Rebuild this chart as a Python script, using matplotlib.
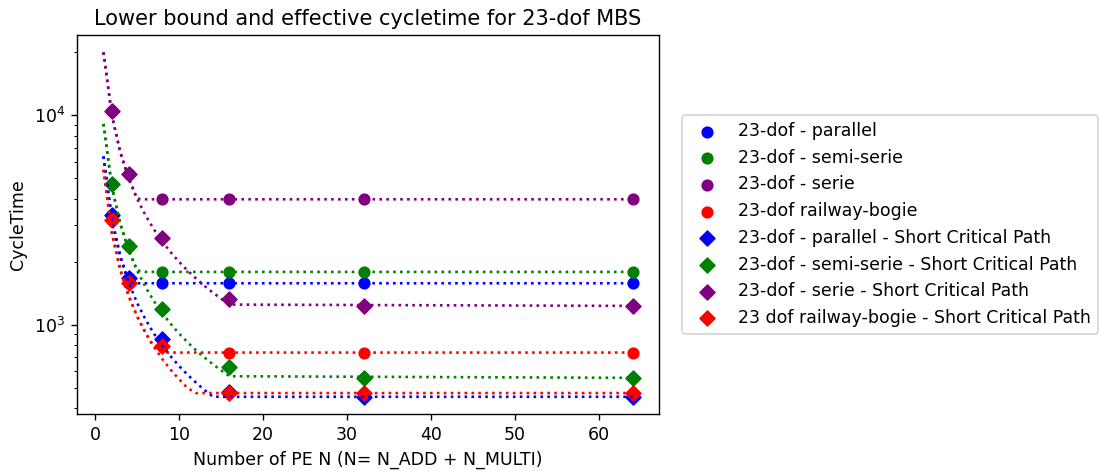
import matplotlib
matplotlib.use("Agg")
import matplotlib.pyplot as plt

# ---- data ----
N_points = [2, 4, 8, 16, 32, 64]
N_line = [1, 2, 3, 4, 5, 6, 7, 8, 9, 10, 11, 12, 13, 14, 15, 16, 64]

# effective cycle time (circles)
parallel_eff = [3335, 1683, 1580, 1580, 1580, 1580]
semiserie_eff = [4720, 2372, 1790, 1790, 1790, 1790]
serie_eff = [10450, 5235, 3975, 3975, 3975, 3975]
bogie_eff = [3155, 1585, 794, 738, 738, 738]

# short critical path (diamonds)
parallel_scp = [3335, 1683, 861, 479, 454, 454]
semiserie_scp = [4720, 2372, 1197, 628, 559, 559]
serie_scp = [10450, 5235, 2612, 1330, 1232, 1232]
bogie_scp = [3155, 1585, 794, 474, 474, 474]

# lower bounds (dotted)
parallel_bound = [6370, 3185, 2123, 1593, 1580, 1580, 1580, 1580, 1580, 1580, 1580, 1580, 1580, 1580, 1580, 1580, 1580]
parallel_bound_scp = [6370, 3185, 2123, 1593, 1274, 1062, 910, 796, 708, 637, 579, 531, 490, 455, 454, 454, 454]
semiserie_bound = [9100, 4550, 3033, 2275, 1820, 1790, 1790, 1790, 1790, 1790, 1790, 1790, 1790, 1790, 1790, 1790, 1790]
semiserie_bound_scp = [9100, 4550, 3033, 2275, 1820, 1517, 1300, 1138, 1011, 910, 827, 758, 700, 650, 607, 569, 559]
serie_bound = [20000, 10000, 6667, 5000, 4000, 3975, 3975, 3975, 3975, 3975, 3975, 3975, 3975, 3975, 3975, 3975, 3975]
serie_bound_scp = [20000, 10000, 6667, 5000, 4000, 3333, 2857, 2500, 2222, 2000, 1818, 1667, 1538, 1429, 1333, 1250, 1232]
bogie_bound = [5500, 2750, 1833, 1375, 1100, 917, 786, 738, 738, 738, 738, 738, 738, 738, 738, 738, 738]
bogie_bound_scp = [5500, 2750, 1833, 1375, 1100, 917, 786, 688, 611, 550, 500, 473, 473, 473, 473, 473, 473]

labels_eff = ["23-dof - parallel", "23-dof - semi-serie", "23-dof - serie", "23-dof railway-bogie"]
labels_scp = ["23-dof - parallel - Short Critical Path", "23-dof - semi-serie - Short Critical Path",
              "23-dof - serie - Short Critical Path", "23 dof railway-bogie - Short Critical Path"]
colors = ["blue", "green", "purple", "red"]

eff = [parallel_eff, semiserie_eff, serie_eff, bogie_eff]
scp = [parallel_scp, semiserie_scp, serie_scp, bogie_scp]
bounds = [parallel_bound, semiserie_bound, serie_bound, bogie_bound]
bounds_scp = [parallel_bound_scp, semiserie_bound_scp, serie_bound_scp, bogie_bound_scp]

fig = plt.figure(figsize=(1099 / 125, 471 / 125), dpi=125)
ax = fig.add_axes([0.0701, 0.121, 0.5295, 0.8047])

for y, c, lab in zip(eff, colors, labels_eff):
    ax.scatter(N_points, y, color=c, marker="o", s=36, label=lab)
for y, c, lab in zip(scp, colors, labels_scp):
    ax.scatter(N_points, y, color=c, marker="D", s=36, label=lab)
for yb, ybs, c in zip(bounds, bounds_scp, colors):
    ax.plot(N_line, yb, linestyle=":", color=c, linewidth=1.5)
    ax.plot(N_line, ybs, linestyle=":", color=c, linewidth=1.5)

ax.set_yscale("log")
ax.set_title("Lower bound and effective cycletime for 23-dof MBS")
ax.set_xlabel("Number of PE N (N= N_ADD + N_MULTI)")
ax.set_ylabel("CycleTime")
ax.legend(loc="center left", bbox_to_anchor=(1.04, 0.5), borderaxespad=0)

fig.savefig("out.png", dpi=125)
